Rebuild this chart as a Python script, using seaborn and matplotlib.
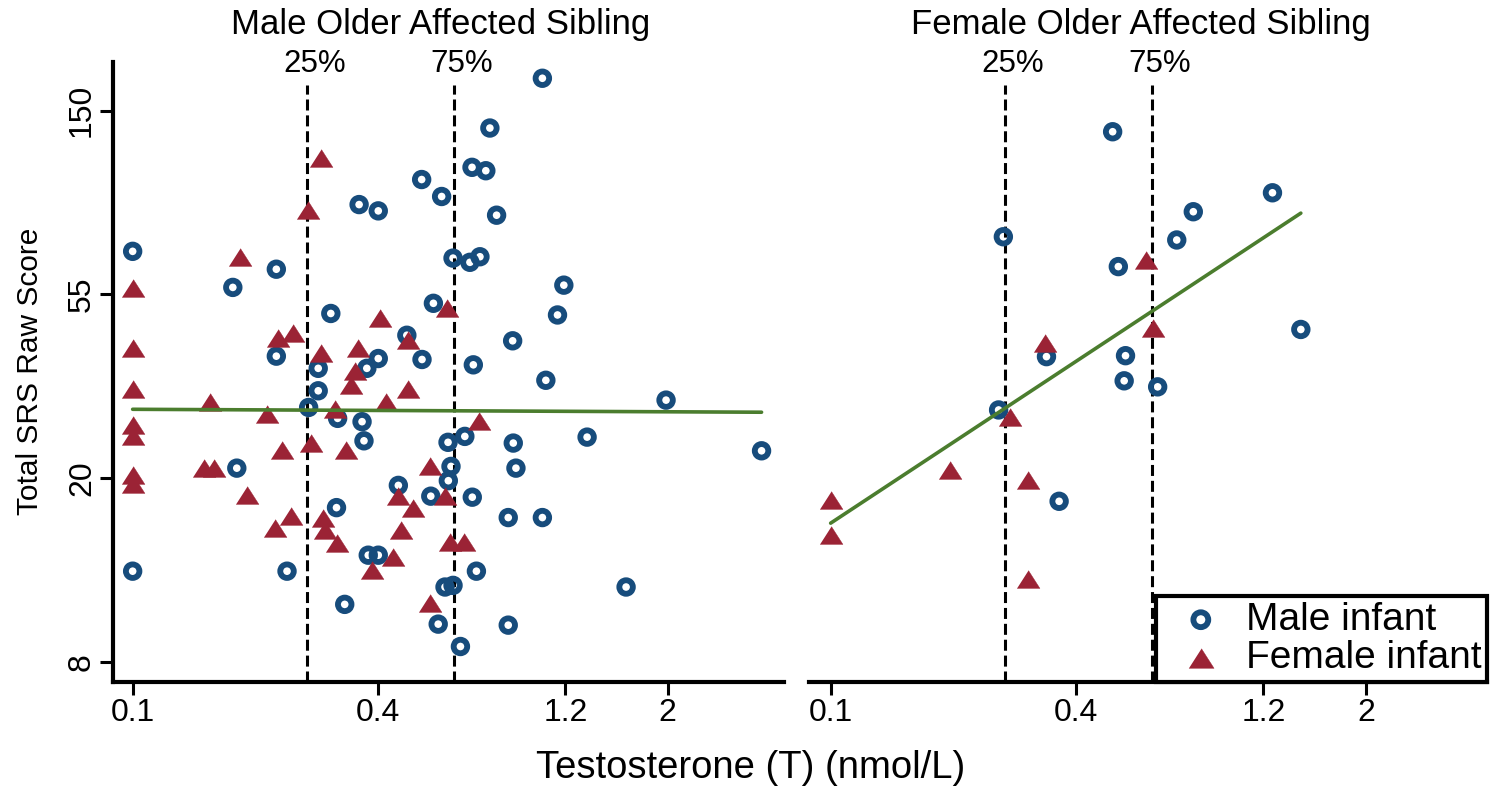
import numpy as np
import matplotlib
matplotlib.use("Agg")
import matplotlib.pyplot as plt
import seaborn as sns
from matplotlib.markers import MarkerStyle
from matplotlib.ticker import NullLocator
from matplotlib.transforms import blended_transform_factory

# ---------------- data ----------------
# Panel 1: male older affected sibling
msib_male_t = [1.01, 0.751, 0.679, 0.734, 0.511, 0.572, 0.359, 0.400, 0.780, 0.100,
               0.610, 0.671, 0.710, 0.225, 0.176, 1.14, 0.546, 0.306, 1.10, 0.470,
               0.854, 0.225, 0.400, 0.512, 0.684, 0.285, 0.375, 1.03, 0.285, 2.03,
               0.270, 0.318, 0.365, 0.652, 1.30, 0.369, 0.593, 0.857, 3.48, 0.180,
               0.603, 0.870, 0.448, 0.594, 0.538, 0.680, 0.316, 0.833, 1.01, 0.378,
               0.400, 0.100, 0.239, 0.696, 0.583, 0.610, 1.62, 0.331, 0.561, 0.833,
               0.636]
msib_male_srs = [177, 135, 109, 107, 102, 93, 89, 86, 84, 69,
                 66.5, 65, 67, 62.6, 56.7, 57.4, 52, 49.2, 48.8, 43.7,
                 42.4, 39.0, 38.5, 38.3, 37.2, 36.5, 36.5, 34.2, 32.3, 30.7,
                 29.5, 27.8, 27.3, 25.2, 25.1, 24.6, 24.4, 24.3, 23.3, 21.2,
                 21.4, 21.2, 19.3, 19.8, 18.2, 18.1, 17.1, 16.2, 16.2, 13.2,
                 13.2, 12.1, 12.1, 12.1, 11.1, 11.2, 11.1, 10.1, 9.07, 9.02,
                 8.03]
msib_female_t = [0.289, 0.269, 0.183, 0.100, 0.588, 0.403, 0.227, 0.247, 0.474, 0.357,
                 0.100, 0.289, 0.351, 0.342, 0.100, 0.474, 0.419, 0.155, 0.313, 0.213,
                 0.708, 0.100, 0.100, 0.274, 0.232, 0.333, 0.150, 0.158, 0.535, 0.100,
                 0.100, 0.191, 0.448, 0.584, 0.487, 0.245, 0.293, 0.296, 0.223, 0.456,
                 0.316, 0.599, 0.649, 0.435, 0.386, 0.535]
msib_female_srs = [114.5, 86.4, 67.0, 56.4, 50.8, 47.9, 43.0, 44.2, 42.5, 40.7,
                   40.7, 39.6, 36.0, 33.3, 32.7, 32.6, 30.4, 30.4, 29.2, 28.5,
                   27.4, 26.8, 25.3, 24.3, 23.4, 23.4, 21.2, 21.2, 21.4, 20.4,
                   19.4, 18.3, 18.2, 18.2, 17.1, 16.3, 16.2, 15.1, 15.3, 15.1,
                   14.1, 14.2, 14.2, 13.1, 12.2, 10.2]

# Panel 2: female older affected sibling
fsib_male_t = [0.491, 1.21, 0.774, 0.265, 0.705, 0.507, 1.42, 0.338, 0.528, 0.524,
               0.633, 0.258, 0.363]
fsib_male_srs = [132.3, 94.9, 85.6, 74.7, 73.4, 63.5, 45.1, 38.9, 39.1, 34.1,
                 33.0, 29.1, 17.7]
fsib_female_t = [0.593, 0.618, 0.335, 0.275, 0.196, 0.305, 0.100, 0.100, 0.305]
fsib_female_srs = [65.8, 45.4, 41.8, 28.0, 21.0, 19.9, 17.8, 14.7, 11.6]

# log-log regression fits: ln(SRS) = intercept + slope * ln(T)
fit_msib = (3.364, -0.0045)
fit_fsib = (4.219, 0.636)

# testosterone quartiles
quartile_t = [0.267, 0.612]
quartile_labels = ["25%", "75%"]

x_ticks = [0.1, 0.4, 1.15, 2.05]
x_ticklabels = ["0.1", "0.4", "1.2", "2"]
y_ticks = [7.39, 20.1, 54.6, 148.4]
y_ticklabels = ["8", "20", "55", "150"]

panel_titles = ["Male Older Affected Sibling", "Female Older Affected Sibling"]
series_labels = ["Male infant", "Female infant"]

# ---------------- style ----------------
sns.set_theme(style="ticks")
plt.rcParams["font.family"] = ["Liberation Sans", "DejaVu Sans"]
plt.rcParams["text.color"] = "black"

BLUE = "#174c7c"
RED = "#9b2335"
GREEN = "#4b7d2e"
TRI = MarkerStyle([(-1.0, -0.78), (1.0, -0.78), (0.0, 0.78)])

fig = plt.figure(figsize=(14.91, 7.88), dpi=100)
W, H = 1491.0, 788.0
ax1 = fig.add_axes([113 / W, 1 - 681.7 / H, 671 / W, 620 / H])
ax2 = fig.add_axes([809 / W, 1 - 681.7 / H, 678 / W, 620 / H])


def draw_panel(ax, male_t, male_srs, female_t, female_srs, fit, xlim, title):
    ax.set_xscale("log")
    ax.set_yscale("log")

    sns.scatterplot(x=male_t, y=male_srs, ax=ax, marker="o", s=95,
                    facecolor="none", edgecolor=BLUE, linewidth=4.2,
                    label=series_labels[0], legend=False, zorder=3)
    sns.scatterplot(x=female_t, y=female_srs, ax=ax, marker=TRI, s=270,
                    color=RED, edgecolor=RED, linewidth=0.3,
                    label=series_labels[1], legend=False, zorder=4)

    all_t = np.concatenate([male_t, female_t])
    xs = np.geomspace(all_t.min(), all_t.max(), 60)
    ys = np.exp(fit[0] + fit[1] * np.log(xs))
    sns.lineplot(x=xs, y=ys, ax=ax, color=GREEN, linewidth=2.6, zorder=5,
                 legend=False)

    trans = blended_transform_factory(ax.transData, ax.transAxes)
    for q, lab in zip(quartile_t, quartile_labels):
        ax.axvline(q, ymin=0, ymax=0.962, color="black", lw=2.2,
                   ls=(0, (3.6, 1.6)), zorder=2)
        ax.annotate(lab, xy=(q, 0.983), xycoords=trans, xytext=(6, 0),
                    textcoords="offset points", ha="center", va="baseline",
                    fontsize=22.5, color="black")

    ax.set_xlim(*xlim)
    ax.set_ylim(6.63, 193.7)
    ax.set_xticks(x_ticks, x_ticklabels)
    ax.set_yticks(y_ticks, y_ticklabels, rotation=90, va="center")
    ax.xaxis.set_minor_locator(NullLocator())
    ax.yaxis.set_minor_locator(NullLocator())
    ax.tick_params(axis="both", which="major", direction="out", length=9.5,
                   width=2.2, labelsize=23, pad=2, colors="black")

    for side in ["top", "right"]:
        ax.spines[side].set_visible(False)
    for side in ["left", "bottom"]:
        ax.spines[side].set_linewidth(3)
        ax.spines[side].set_color("black")

    ax.set_title(title, fontsize=25, pad=20, x=0.489, color="black")

    if ax.get_legend() is not None:
        ax.get_legend().remove()


draw_panel(ax1, np.array(msib_male_t), msib_male_srs,
           np.array(msib_female_t), msib_female_srs,
           fit_msib, (0.0895, 3.95), panel_titles[0])
draw_panel(ax2, np.array(fsib_male_t), fsib_male_srs,
           np.array(fsib_female_t), fsib_female_srs,
           fit_fsib, (0.0885, 4.06), panel_titles[1])

# right panel shares the y scale but shows no y axis
ax2.spines["left"].set_visible(False)
ax2.tick_params(axis="y", left=False, labelleft=False)

ax1.set_ylabel("Total SRS Raw Score", fontsize=21.5, color="black")
ax1.yaxis.set_label_coords(-0.103, 0.5)

fig.text(0.5037, 0.0123, "Testosterone (T) (nmol/L)", ha="center",
         va="baseline", fontsize=27.5, color="black")

handles, labels = ax2.get_legend_handles_labels()
leg = ax2.legend(handles, labels, loc="lower right", bbox_to_anchor=(1.0, 0.0),
                 borderaxespad=0, fontsize=28, frameon=True, fancybox=False,
                 framealpha=1, edgecolor="black", handlelength=2.0,
                 handletextpad=0.15, borderpad=0.15, labelspacing=0.05,
                 markerscale=1.1)
leg.get_frame().set_linewidth(3)
leg.set_zorder(10)

fig.savefig("out.png", dpi=100)
